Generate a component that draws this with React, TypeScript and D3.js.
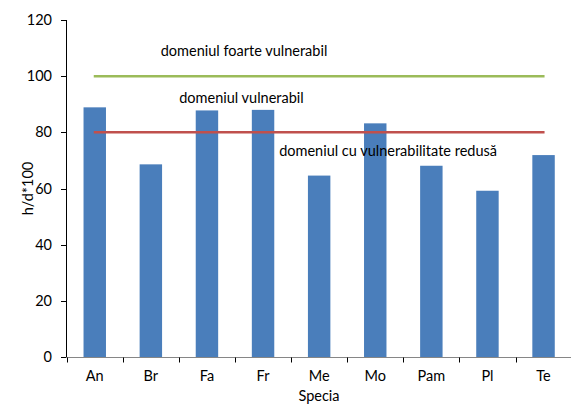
import React from "react";
import * as d3 from "d3";

const categories = ["An", "Br", "Fa", "Fr", "Me", "Mo", "Pam", "Pl", "Te"];
const values = [88.9, 68.6, 87.8, 88.0, 64.6, 83.2, 68.1, 59.2, 71.9];
const yTicks = [0, 20, 40, 60, 80, 100, 120];
const thresholds = [
  { value: 100, color: "#9BBB59" },
  { value: 80, color: "#C0504D" },
];
const annotations = [
  { text: "domeniul foarte vulnerabil", cat: "An", dx: 66, y: 56 },
  { text: "domeniul vulnerabil", cat: "An", dx: 84.5, y: 103 },
  { text: "domeniul cu vulnerabilitate redusă", cat: "Me", dx: -40, y: 156 },
];

const W = 571, H = 404;
const FONT = "Lato, 'Open Sans', sans-serif";
const FS = 14.5;

export default function App() {
  const band = d3.scaleBand().domain(categories).range([66.7, 571.6]);
  const y = d3.scaleLinear().domain([0, 120]).range([357, 20]);
  const xc = (c: string) => (band(c) as number) + band.bandwidth() / 2;
  const first = categories[0], last = categories[categories.length - 1];
  const bw = band.bandwidth() * 0.4;
  return (
    <svg width={W} height={H} style={{ position: "absolute", left: 0, top: 0, fontFamily: FONT }}>
      <rect width={W} height={H} fill="#fff" />
      {categories.map((c, i) => (
        <rect key={c} x={xc(c) - bw / 2} y={y(values[i])} width={bw} height={y(0) - y(values[i])} fill="#4A7EBB" />
      ))}
      {thresholds.map((t) => (
        <line key={t.value} x1={xc(first) - 1} x2={xc(last) + 1} y1={y(t.value)} y2={y(t.value)} stroke={t.color} strokeWidth={2.5} />
      ))}
      {annotations.map((a) => (
        <text key={a.text} x={xc(a.cat) + a.dx} y={a.y} fontSize={FS} fill="#000">{a.text}</text>
      ))}
      <line x1={66.5} x2={66.5} y1={y(120)} y2={y(0)} stroke="#000" strokeWidth={1} />
      {yTicks.map((t) => (
        <g key={t}>
          <line x1={61} x2={66.5} y1={Math.round(y(t)) + 0.5} y2={Math.round(y(t)) + 0.5} stroke="#000" />
          <text x={52} y={y(t) + 5} fontSize={FS} textAnchor="end" fill="#000">{t}</text>
        </g>
      ))}
      <line x1={66.5} x2={W} y1={357.5} y2={357.5} stroke="#868686" strokeWidth={1} />
      {categories.map((c) => (
        <line key={"t" + c} x1={Math.round(band(c) as number) + 0.5} x2={Math.round(band(c) as number) + 0.5} y1={357.5} y2={362.5} stroke="#000" />
      ))}
      {categories.map((c) => (
        <text key={"l" + c} x={xc(c)} y={381} fontSize={FS} textAnchor="middle" fill="#000">{c}</text>
      ))}
      <text x={319} y={401} fontSize={FS} textAnchor="middle" fill="#000">Specia</text>
      <text transform={`translate(32.5,188.5) rotate(-90)`} fontSize={FS} textAnchor="middle" fill="#000">h/d*100</text>
    </svg>
  );
}
